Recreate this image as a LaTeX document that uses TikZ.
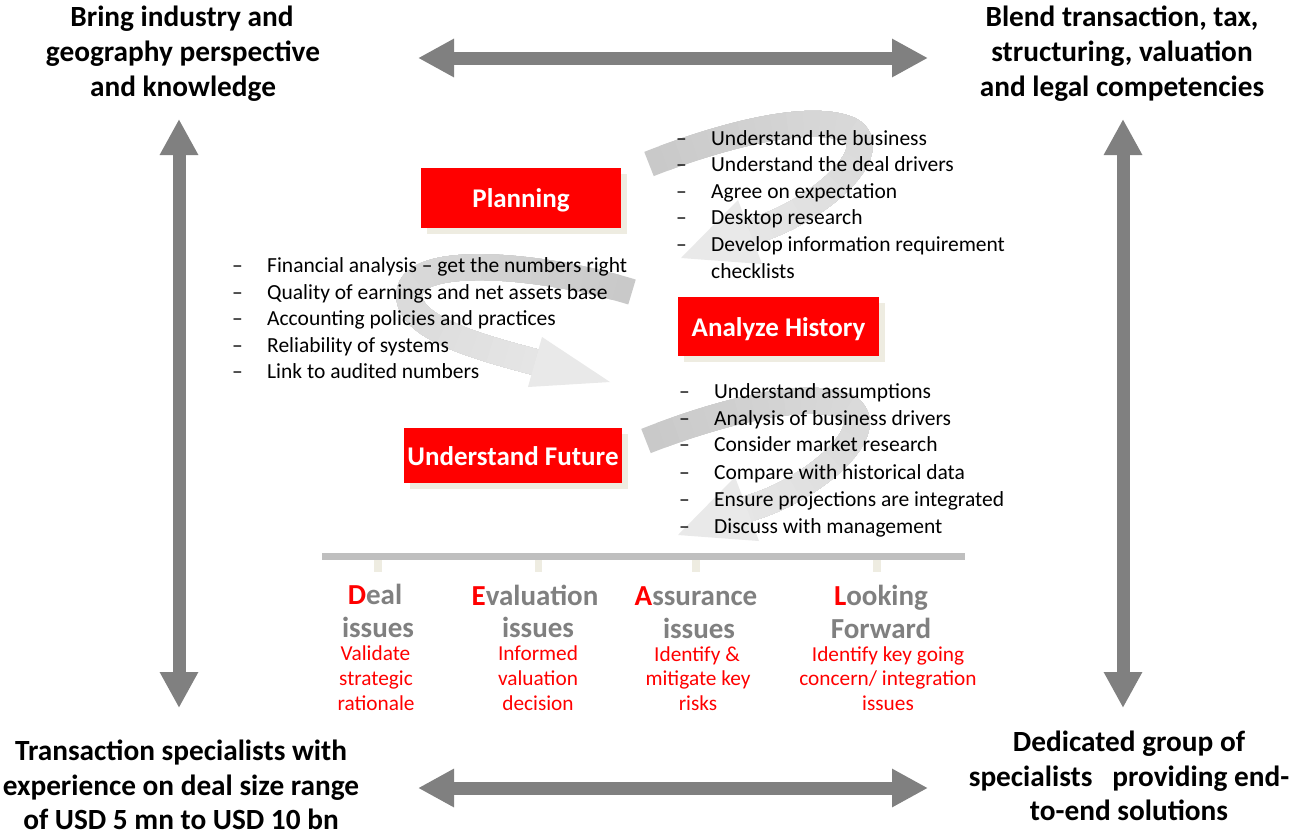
\documentclass[tikz,border=0pt]{standalone}
\usepackage{fontspec}
\setmainfont{Carlito}
\usetikzlibrary{arrows.meta,shadows}
\definecolor{boxred}{HTML}{FF0000}
\definecolor{shadowc}{HTML}{EEECE1}
\definecolor{arrowgray}{HTML}{808080}
\definecolor{headgray}{HTML}{808080}
\definecolor{bandA}{HTML}{C9C9C9}
\definecolor{bandC}{HTML}{E9E9E9}
\definecolor{barc}{HTML}{BFBFBF}
\newcommand\bandpathA{(649,164) .. controls (720,136) and (810,112) .. (850,130) .. controls (885,150) and (820,212) .. (750,232)}
\newcommand\bandpathB{(632,292) .. controls (540,264) and (420,255) .. (410,290) .. controls (402,325) and (470,345) .. (535,362)}
\newcommand\gradband[2]{%
  \draw[bandA, line width=26pt] #1;
  \foreach \i in {1,...,24}{%
    \pgfmathtruncatemacro\myL{\i*#2}%
    \pgfmathtruncatemacro\myP{\i*4}%
    \draw[draw=bandC!\myP!bandA, line width=26pt, dash pattern=on 0pt off \myL pt on 3000pt off 1pt] #1;
  }%
}
\begin{document}
\begin{tikzpicture}[x=1pt,y=-1pt,
  bigarrow/.style={draw=arrowgray, line width=13pt,
    {Triangle[length=36pt,width=36pt]}-{Triangle[length=36pt,width=36pt]}},
  title/.style={font=\fontsize{29.3}{35}\selectfont\bfseries, anchor=base, inner sep=0pt},
  stagebox/.style={fill=boxred, text=white, font=\fontsize{27}{32}\selectfont\bfseries,
    inner sep=0pt, text height=19.5pt, text depth=0pt,
    general shadow={fill=shadowc, shadow xshift=6pt, shadow yshift=-6pt}},
  bul/.style={font=\fontsize{21.5}{26.6}\selectfont, anchor=base west, inner sep=0pt},
  hd/.style={font=\fontsize{29}{34}\selectfont\bfseries, text=headgray, anchor=base, inner sep=0pt},
  sub/.style={font=\fontsize{21.3}{25}\selectfont, text=boxred, anchor=base, inner sep=0pt}
]
\useasboundingbox (0,0) rectangle (1290,836);
\fill[white] (0,0) rectangle (1290,836);

% curved grey process arrows
\gradband{\bandpathA}{16}
\fill[bandC] (681,258) -- (738,200) -- (762,264) -- cycle;
\begin{scope}[shift={(-3,277)}]
\gradband{\bandpathA}{16}
\fill[bandC] (681,258) -- (738,200) -- (762,264) -- cycle;
\end{scope}
\gradband{\bandpathB}{17}
\fill[bandC] (610,382) -- (542,337) -- (528,387) -- cycle;

% big double arrows
\coordinate (atl) at (418,58);
\coordinate (atr) at (928,58);
\coordinate (abl) at (418,788);
\coordinate (abr) at (928,788);
\coordinate (alt) at (179,119);
\coordinate (alb) at (179,708);
\coordinate (art) at (1123,119);
\coordinate (arb) at (1123,708);
\draw[bigarrow] (atl) -- (atr);
\draw[bigarrow] (abl) -- (abr);
\draw[bigarrow] (alt) -- (alb);
\draw[bigarrow] (art) -- (arb);

% corner titles
\node[title] (t1a) at (182,26) {Bring industry and};
\node[title] (t1b) at (183,61.5) {geography perspective};
\node[title] (t1c) at (183,96.5) {and knowledge};
\node[title] (t2a) at (1122,26) {Blend transaction, tax,};
\node[title] (t2b) at (1122,61.5) {structuring, valuation};
\node[title] (t2c) at (1122,96.5) {and legal competencies};
\node[title] (t3a) at (181,760) {Transaction specialists with};
\node[title] (t3b) at (181,795) {experience on deal size range};
\node[title] (t3c) at (181,829) {of USD 5 mn to USD 10 bn};
\node[title] (t4a) at (1129,751) {Dedicated group of};
\node[title] (t4b) at (1129,786) {specialists\ \ \ providing end-};
\node[title] (t4c) at (1129,820) {to-end solutions};

% stage boxes
\node[stagebox, minimum width=200pt, minimum height=60pt] (plan) at (521,198) {Planning};
\node[stagebox, minimum width=201pt, minimum height=59pt] (hist) at (778.5,326.5) {Analyze History};
\node[stagebox, minimum width=218pt, minimum height=55pt] (fut) at (513,455.5) {Understand Future};

% bullet lists
\newcommand\dsh{\makebox[35pt][l]{–}}
\node[bul] (p1) at (676,145) {\dsh Understand the business};
\node[bul] (p2) at (676,171.6) {\dsh Understand the deal drivers};
\node[bul] (p3) at (676,198.2) {\dsh Agree on expectation};
\node[bul] (p4) at (676,224.8) {\dsh Desktop research};
\node[bul] (p5) at (676,251.4) {\dsh Develop information requirement};
\node[bul] (p6) at (711,278) {checklists};

\node[bul] (h1) at (232,272.5) {\dsh Financial analysis – get the numbers right};
\node[bul] (h2) at (232,299) {\dsh Quality of earnings and net assets base};
\node[bul] (h3) at (232,325.5) {\dsh Accounting policies and practices};
\node[bul] (h4) at (232,352) {\dsh Reliability of systems};
\node[bul] (h5) at (232,378.5) {\dsh Link to audited numbers};

\node[bul] (f1) at (679,398.4) {\dsh Understand assumptions};
\node[bul] (f2) at (679,425) {\dsh Analysis of business drivers};
\node[bul] (f3) at (679,451.7) {\dsh Consider market research};
\node[bul] (f4) at (679,479) {\dsh Compare with historical data};
\node[bul] (f5) at (679,506) {\dsh Ensure projections are integrated};
\node[bul] (f6) at (679,533) {\dsh Discuss with management};

% timeline
\fill[barc] (322,552.5) rectangle (965,560);
\foreach \tx in {378,538.5,696,877}{
  \fill[shadowc] (\tx-3.7,560) rectangle (\tx+3.7,572);
}

% stage headings
\node[hd] (d1) at (375,604) {\textcolor{boxred}{D}eal};
\node[hd] (d2) at (378,637.5) {issues};
\node[sub] (d3) at (375.5,660) {Validate};
\node[sub] (d4) at (376,685) {strategic};
\node[sub] (d5) at (376,710) {rationale};

\node[hd] (e1) at (535,605) {\textcolor{boxred}{E}valuation};
\node[hd] (e2) at (538,637.5) {issues};
\node[sub] (e3) at (538,660) {Informed};
\node[sub] (e4) at (538,685) {valuation};
\node[sub] (e5) at (538,710) {decision};

\node[hd] (a1) at (696,605) {\textcolor{boxred}{A}ssurance};
\node[hd] (a2) at (699,638.5) {issues};
\node[sub] (a3) at (697,661) {Identify \&};
\node[sub] (a4) at (698,685.5) {mitigate key};
\node[sub] (a5) at (698,710) {risks};

\node[hd] (l1) at (881,605) {\textcolor{boxred}{L}ooking};
\node[hd] (l2) at (881,638.5) {Forward};
\node[sub] (l3) at (888,661) {Identify key going};
\node[sub] (l4) at (888,685.5) {concern/ integration};
\node[sub] (l5) at (888,710) {issues};
\end{tikzpicture}
\end{document}
